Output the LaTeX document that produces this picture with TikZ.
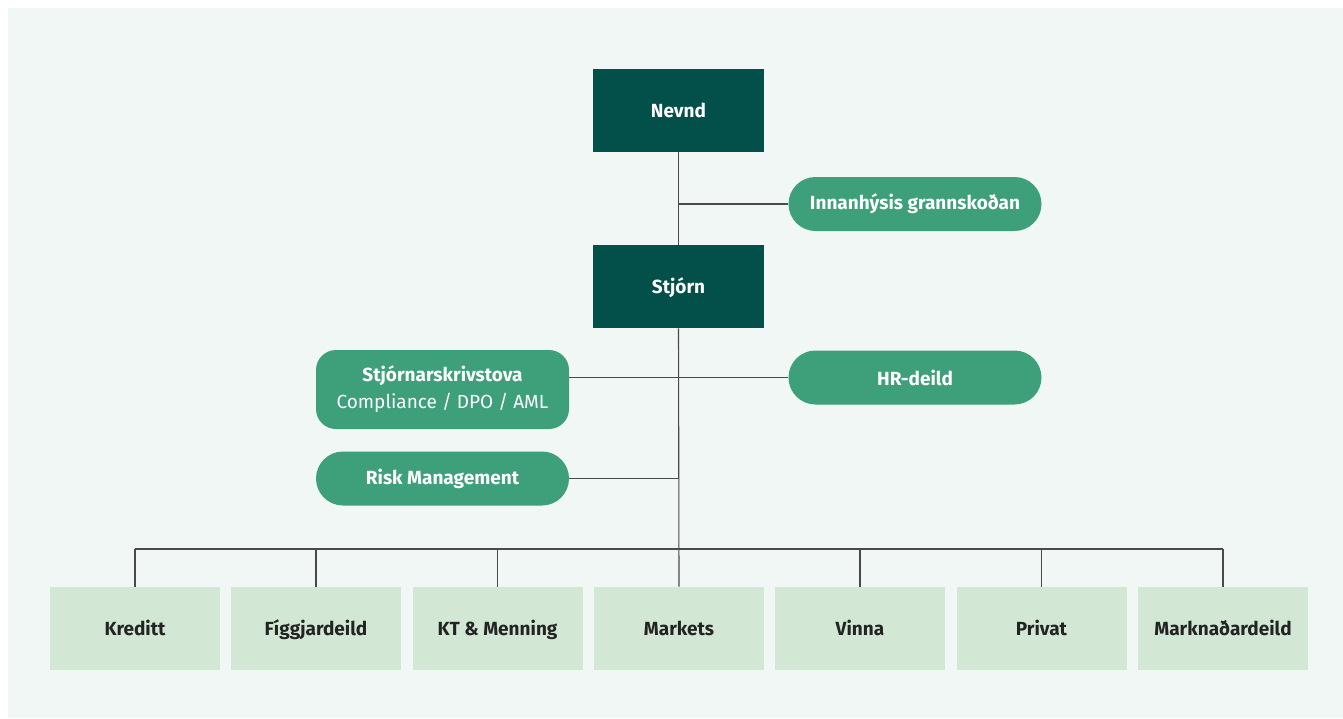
\documentclass[tikz,border=0pt]{standalone}
\usepackage{fontspec}
\setmainfont{Fira Sans}
\usepackage{tikz}
\usetikzlibrary{positioning, calc}
\usepackage{xcolor}
\definecolor{boardgreen}{HTML}{03504A}
\definecolor{midgreen}{HTML}{3DA07A}
\definecolor{palegreen}{HTML}{D2E8D5}
\definecolor{bggreen}{HTML}{F1F7F4}
\definecolor{linegray}{HTML}{4A4A4A}
\definecolor{darktext}{HTML}{232323}

\begin{document}
\begin{tikzpicture}[
  x=0.5pt, y=-0.5pt,
  board/.style={rectangle, fill=boardgreen, text=white, minimum width=85.5pt,
    minimum height=41.5pt, font=\fontsize{9.5}{11}\selectfont\bfseries, inner sep=0pt,
    text height=1.6ex, text depth=0.3ex},
  staff/.style={rectangle, rounded corners=13.5pt, fill=midgreen, text=white,
    minimum width=126.5pt, minimum height=27pt, align=center,
    font=\fontsize{9.5}{13.5}\selectfont\bfseries, inner sep=0pt},
  dept/.style={rectangle, fill=palegreen, text=darktext, minimum width=85pt,
    minimum height=41.5pt, font=\fontsize{9.5}{11}\selectfont\bfseries, inner sep=0pt,
    text height=1.6ex, text depth=0.3ex},
  link/.style={linegray, line width=0.55pt},
]
  % background
  \fill[white] (0,0) rectangle (1343,718);
  \fill[bggreen] (8,8) rectangle (1343,718);

  % top of the tree
  \node[board] (nevnd) at (678.5,110.5) {Nevnd};
  \node[board] (stjorn) at (678.5,286.5) {Stjórn};
  \node[staff] (innan) at (915,204) {Innanhýsis grannskoðan};

  % staff units
  \node[staff, minimum height=39.5pt, rounded corners=10pt] (skriv) at (442.5,389.5) {
    Stjórnarskrivstova\\
    {\mdseries Compliance / DPO / AML}};
  \node[staff] (hr) at (915,377.5) {HR-deild};
  \node[staff] (risk) at (442.5,478.5) {Risk Management};

  % departments
  \node[dept] (kreditt) at (135,628.5) {Kreditt};
  \node[dept] (figg) at (316,628.5) {Fíggjardeild};
  \node[dept] (kt) at (497.5,628.5) {KT \& Menning};
  \node[dept] (markets) at (679,628.5) {Markets};
  \node[dept] (vinna) at (860,628.5) {Vinna};
  \node[dept] (privat) at (1041.5,628.5) {Privat};
  \node[dept] (markn) at (1223,628.5) {Marknaðardeild};
  \coordinate (bus) at (679,549);

  % connectors
  \draw[link] (nevnd.south) -- (stjorn.north);
  \draw[link] (innan.west) -- (innan.west -| nevnd.south);
  \draw[link] (stjorn.south) -- (markets.north);
  \draw[link] (hr.west) -- (hr.west -| skriv.east);
  \draw[link] (risk.east) -- (risk.east -| stjorn.south);
  \draw[link] (kreditt.north |- bus) -- (markn.north |- bus);
  \foreach \d in {kreditt, figg, kt, vinna, privat, markn}
    \draw[link] (\d.north) -- (\d.north |- bus);
\end{tikzpicture}
\end{document}
